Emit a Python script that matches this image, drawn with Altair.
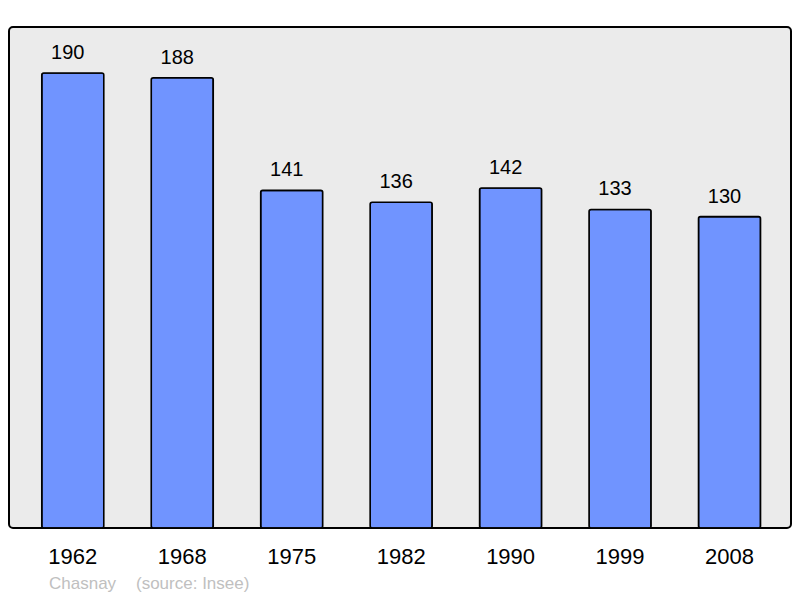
import altair as alt
import pandas as pd

years = ["1962", "1968", "1975", "1982", "1990", "1999", "2008"]
population = [190, 188, 141, 136, 142, 133, 130]
town = "Chasnay"
source = "(source: Insee)"

df = pd.DataFrame({"year": years, "pop": population})

x = alt.X("year:N", sort=None,
          scale=alt.Scale(paddingInner=0.4335, paddingOuter=0.294, range=[0.6, 783.7]),
          axis=alt.Axis(title=None, labelAngle=0, domain=False, ticks=False,
                        labelFontSize=22, labelFont="Liberation Sans",
                        labelColor="black", labelPadding=18))
y = alt.Y("pop:Q", scale=alt.Scale(domain=[0, 209.2], nice=False, zero=True),
          axis=None)

bars = alt.Chart(df).mark_bar(
    fill="#7094ff", stroke="black", strokeWidth=1.6, cornerRadius=2
).encode(x=x, y=y)

labels = alt.Chart(df).mark_text(
    fontSize=20, font="Liberation Sans", color="black",
    baseline="alphabetic", dy=-14, dx=-5
).encode(x=x, y=y, text="pop:Q")

src1 = alt.Chart(pd.DataFrame({"t": [town]})).mark_text(
    fontSize=17, font="Liberation Sans", color="#c0c0c0",
    align="left", baseline="middle"
).encode(x=alt.value(40), y=alt.value(557), text="t:N")

src2 = alt.Chart(pd.DataFrame({"t": [source]})).mark_text(
    fontSize=17, font="Liberation Sans", color="#c0c0c0",
    align="left", baseline="middle"
).encode(x=alt.value(127), y=alt.value(557), text="t:N")

chart = alt.layer(bars, labels, src1, src2).properties(
    width=782, height=501,
    autosize=alt.AutoSizeParams(type="none"),
    padding={"left": 1, "top": 19, "right": 1, "bottom": 70},
).configure_view(
    fill="#ebebeb", stroke="black", strokeWidth=2, cornerRadius=4
)

chart.save("out.html", embed_options={"renderer": "svg", "actions": False})
